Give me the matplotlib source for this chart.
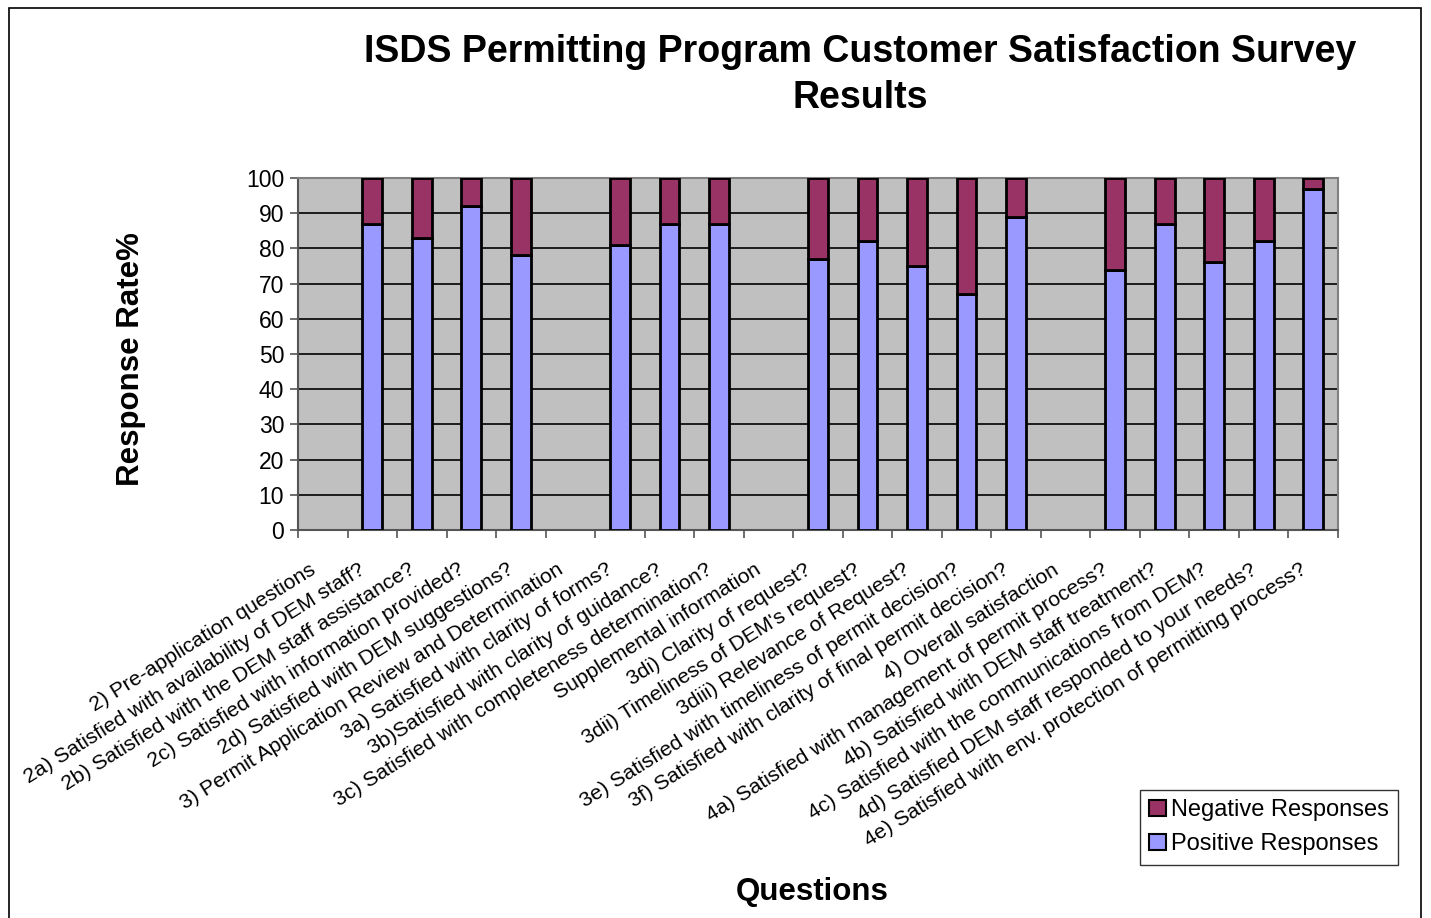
import numpy as np
import matplotlib
matplotlib.use("Agg")
import matplotlib.pyplot as plt
from matplotlib.patches import Rectangle, Patch
from matplotlib.transforms import blended_transform_factory, ScaledTranslation

plt.rcParams['font.family'] = ['Liberation Sans', 'DejaVu Sans']

questions = [
    "2) Pre-application questions",
    "2a) Satisfied with availability of DEM staff?",
    "2b) Satisfied with the DEM staff assistance?",
    "2c) Satisfied with information provided?",
    "2d) Satisfied with DEM suggestions?",
    "3) Permit Application Review and Determination",
    "3a) Satisfied with clarity of forms?",
    "3b)Satisfied with clarity of guidance?",
    "3c) Satisfied with completeness determination?",
    "Supplemental information",
    "3di) Clarity of request?",
    "3dii) Timeliness of DEM's request?",
    "3diii) Relevance of Request?",
    "3e) Satisfied with timeliness of permit decision?",
    "3f) Satisfied with clarity of final permit decision?",
    "4) Overall satisfaction",
    "4a) Satisfied with management of permit process?",
    "4b) Satisfied with DEM staff treatment?",
    "4c) Satisfied with the communications from DEM?",
    "4d) Satisfied DEM staff responded to your needs?",
    "4e) Satisfied with env. protection of permitting process?",
]
nan = np.nan
positive = [nan, 87, 83, 92, 78, nan, 81, 87, 87, nan, 77, 82, 75, 67, 89, nan, 74, 87, 76, 82, 97]
negative = [nan, 13, 17, 8, 22, nan, 19, 13, 13, nan, 23, 18, 25, 33, 11, nan, 26, 13, 24, 18, 3]
yticks = [0, 10, 20, 30, 40, 50, 60, 70, 80, 90, 100]

W, H = 1431, 918
fig = plt.figure(figsize=(W / 100, H / 100), dpi=100)
fig.patch.set_facecolor('white')

# figure border
fig.add_artist(Rectangle((9 / W, -0.01), (1421 - 9) / W, 1.01 - 8 / H, transform=fig.transFigure,
                         fill=False, edgecolor='black', linewidth=1.2, clip_on=False))

left, right, top, bottom = 298 / W, 1338 / W, 1 - 178 / H, 1 - 530 / H
ax = fig.add_axes([left, bottom, right - left, top - bottom])
ax.set_facecolor('#C0C0C0')

x = np.arange(len(questions))
pos = np.array(positive, dtype=float)
neg = np.array(negative, dtype=float)
ax.bar(x, pos, width=0.4, color='#9999FF', edgecolor='black', linewidth=2, zorder=3,
       label='Positive Responses')
ax.bar(x, neg, width=0.4, bottom=pos, color='#993366', edgecolor='black', linewidth=2, zorder=3,
       label='Negative Responses')

ax.set_xlim(-0.5, len(questions) - 0.5)
ax.set_ylim(0, 100)
ax.set_yticks(yticks)
ax.set_yticklabels([str(v) for v in yticks], fontsize=16.5)
ax.yaxis.grid(True, color='black', linewidth=1.2, zorder=1)
ax.set_axisbelow(True)
ax.tick_params(axis='y', direction='out', length=6, width=1.2, color='#555555', pad=4)

ax.set_xticks(x)
ax.set_xticklabels([''] * len(questions))
ax.tick_params(axis='x', which='major', length=0)
ax.set_xticks(np.arange(-0.5, len(questions), 1.0), minor=True)
ax.tick_params(axis='x', which='minor', direction='out', length=6, width=1.2, color='#555555')

for s in ['top', 'right']:
    ax.spines[s].set_color('#808080')
    ax.spines[s].set_linewidth(1.5)
for s in ['left', 'bottom']:
    ax.spines[s].set_color('#555555')
    ax.spines[s].set_linewidth(1.5)

trans = blended_transform_factory(ax.transData, ax.transAxes) + ScaledTranslation(-0.14, -0.30, fig.dpi_scale_trans)
for xi, lab in zip(x, questions):
    ax.text(xi, 0, lab, transform=trans, rotation=32, rotation_mode='anchor',
            ha='right', va='top', fontsize=15.2)

fig.text(860 / W, 1 - 52 / H, "ISDS Permitting Program Customer Satisfaction Survey",
         ha='center', va='center', fontsize=27, fontweight='bold')
fig.text(860 / W, 1 - 98 / H, "Results", ha='center', va='center', fontsize=27, fontweight='bold')
fig.text(131 / W, 1 - 359 / H, "Response Rate%", rotation=90, ha='center', va='center',
         fontsize=22.5, fontweight='bold')
fig.text(812 / W, 1 - 892 / H, "Questions", ha='center', va='center', fontsize=22.5, fontweight='bold')

handles = [Patch(facecolor='#993366', edgecolor='black', linewidth=1.5, label='Negative Responses'),
           Patch(facecolor='#9999FF', edgecolor='black', linewidth=1.5, label='Positive Responses')]
leg = fig.legend(handles=handles, loc='upper left', bbox_to_anchor=(1140 / W, 1 - 790 / H),
                 fontsize=17, frameon=True, fancybox=False, edgecolor='black',
                 handlelength=0.7, handleheight=0.7, handletextpad=0.2, borderpad=0.4,
                 labelspacing=0.5, borderaxespad=0)
leg.get_frame().set_linewidth(1.0)

fig.savefig('out.png', dpi=100, facecolor='white')
